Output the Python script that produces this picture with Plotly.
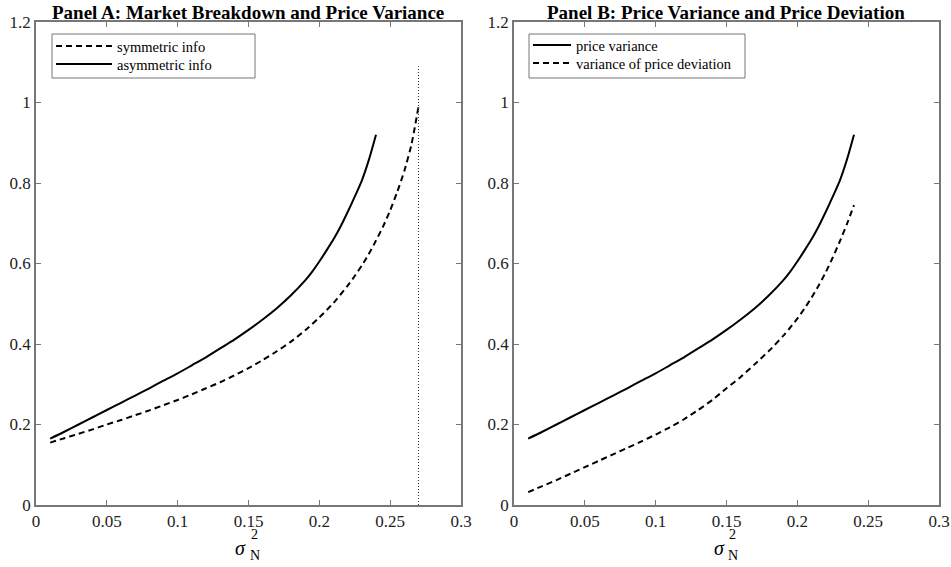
import plotly.graph_objects as go

# ---- data ----
x_asym = [0.01, 0.02, 0.03, 0.04, 0.05, 0.06, 0.07, 0.08, 0.09, 0.10, 0.11, 0.12, 0.13, 0.14,
          0.15, 0.16, 0.17, 0.18, 0.19, 0.195, 0.20, 0.205, 0.21, 0.215, 0.22, 0.225, 0.23, 0.235, 0.24]
y_asym = [0.165, 0.182, 0.200, 0.218, 0.236, 0.254, 0.272, 0.290, 0.309, 0.327, 0.347, 0.367, 0.389, 0.411,
          0.435, 0.461, 0.489, 0.521, 0.558, 0.580, 0.605, 0.632, 0.660, 0.692, 0.728, 0.766, 0.806, 0.858, 0.920]

x_sym = [0.01, 0.02, 0.03, 0.04, 0.05, 0.06, 0.07, 0.08, 0.09, 0.10, 0.11, 0.12, 0.13, 0.14, 0.15,
         0.16, 0.17, 0.18, 0.19, 0.20, 0.21, 0.22, 0.225, 0.23, 0.235, 0.24, 0.245, 0.25, 0.255, 0.26, 0.265, 0.27]
y_sym = [0.155, 0.166, 0.177, 0.188, 0.200, 0.211, 0.223, 0.235, 0.248, 0.261, 0.275, 0.290, 0.305, 0.322, 0.340,
         0.360, 0.382, 0.406, 0.434, 0.466, 0.502, 0.545, 0.569, 0.595, 0.624, 0.657, 0.692, 0.732, 0.778, 0.830, 0.895, 0.990]

x_dev = [0.01, 0.02, 0.03, 0.04, 0.05, 0.06, 0.07, 0.08, 0.09, 0.10, 0.11, 0.12, 0.13, 0.14, 0.15,
         0.16, 0.17, 0.18, 0.19, 0.195, 0.20, 0.205, 0.21, 0.215, 0.22, 0.225, 0.23, 0.235, 0.24]
y_dev = [0.032, 0.047, 0.062, 0.078, 0.094, 0.110, 0.126, 0.142, 0.158, 0.175, 0.193, 0.213, 0.236, 0.261, 0.290,
         0.318, 0.350, 0.383, 0.420, 0.441, 0.463, 0.488, 0.515, 0.545, 0.578, 0.615, 0.655, 0.698, 0.745]

breakdown_x = [0.27, 0.27]
breakdown_y = [0.0, 1.09]

x_tickvals = [0, 0.05, 0.1, 0.15, 0.2, 0.25, 0.3]
x_ticktext = ["0", "0.05", "0.1", "0.15", "0.2", "0.25", "0.3"]
y_tickvals = [0, 0.2, 0.4, 0.6, 0.8, 1.0, 1.2]
y_ticktext = ["0", "0.2", "0.4", "0.6", "0.8", "1", "1.2"]

titles = ["Panel A: Market Breakdown and Price Variance",
          "Panel B: Price Variance and Price Deviation"]

FONT = "Liberation Serif"
W, H = 951, 567
DASH = "6px,4px"

fig = go.Figure()

# Panel A
fig.add_trace(go.Scatter(x=x_sym, y=y_sym, mode="lines", name="symmetric info",
                         line=dict(color="black", width=2, dash=DASH, shape="spline", smoothing=0.6),
                         xaxis="x", yaxis="y", legend="legend"))
fig.add_trace(go.Scatter(x=x_asym, y=y_asym, mode="lines", name="asymmetric info",
                         line=dict(color="black", width=2, shape="spline", smoothing=0.6),
                         xaxis="x", yaxis="y", legend="legend2"))
fig.add_trace(go.Scatter(x=breakdown_x, y=breakdown_y, mode="lines", showlegend=False,
                         line=dict(color="#333", width=1, dash="1px,2px"),
                         xaxis="x", yaxis="y"))
# Panel B
fig.add_trace(go.Scatter(x=x_asym, y=y_asym, mode="lines", name="price variance",
                         line=dict(color="black", width=2, shape="spline", smoothing=0.6),
                         xaxis="x2", yaxis="y2", legend="legend3"))
fig.add_trace(go.Scatter(x=x_dev, y=y_dev, mode="lines", name="variance of price deviation",
                         line=dict(color="black", width=2, dash=DASH, shape="spline", smoothing=0.6),
                         xaxis="x2", yaxis="y2", legend="legend4"))

MT, MB = 22, 62
plot_h = H - MT - MB


def px_x(p):
    return p / W


def px_y(p):
    return 1 - (p - MT) / plot_h


axcommon = dict(showgrid=False, zeroline=False, showline=True, mirror="ticks",
                linecolor="#777", linewidth=1.5, ticks="inside", ticklen=5,
                tickcolor="#777", tickwidth=1, automargin=False,
                tickfont=dict(family=FONT, size=17, color="#222"))

dA = [px_x(36), px_x(461)]
dB = [px_x(514), px_x(939)]


def leg(xp, yp, iw):
    return dict(x=px_x(xp), y=px_y(yp), xref="paper", yref="paper",
                xanchor="left", yanchor="middle",
                bgcolor="rgba(0,0,0,0)", borderwidth=0,
                font=dict(family=FONT, size=14.5, color="black"),
                tracegroupgap=0, itemwidth=iw)


fig.update_layout(
    width=W, height=H,
    margin=dict(l=0, r=0, t=MT, b=MB),
    plot_bgcolor="white", paper_bgcolor="white",
    font=dict(family=FONT, color="black"),
    xaxis=dict(domain=dA, range=[0, 0.3], tickvals=x_tickvals, ticktext=x_ticktext,
               anchor="y", **axcommon),
    yaxis=dict(domain=[0, 1], range=[0, 1.2], tickvals=y_tickvals, ticktext=y_ticktext,
               anchor="x", **axcommon),
    xaxis2=dict(domain=dB, range=[0, 0.3], tickvals=x_tickvals, ticktext=x_ticktext,
                anchor="y2", **axcommon),
    yaxis2=dict(domain=[0, 1], range=[0, 1.2], tickvals=y_tickvals, ticktext=y_ticktext,
                anchor="x2", **axcommon),
    legend=leg(51, 46, 56),
    legend2=leg(51, 64, 56),
    legend3=leg(528, 45, 38),
    legend4=leg(528, 63, 38),
    showlegend=True,
)

# legend frames (MATLAB-style boxes)
shapes = []
for (x0, x1) in [(52, 255), (529, 745)]:
    shapes.append(dict(type="rect", xref="paper", yref="paper",
                       x0=px_x(x0), x1=px_x(x1), y0=px_y(78), y1=px_y(34),
                       line=dict(color="#777", width=1), fillcolor="rgba(0,0,0,0)",
                       layer="below"))
fig.update_layout(shapes=shapes)

annots = []
for cx, t in [(248, titles[0]), (726, titles[1])]:
    annots.append(dict(text="<b>" + t + "</b>", x=cx / W, y=px_y(0), xref="paper", yref="paper",
                       showarrow=False, xanchor="center", yanchor="top",
                       font=dict(family=FONT, size=19, color="black")))
    # x-axis label sigma^2_N
    annots.append(dict(text="<i>σ</i>", x=(cx - 7) / W, y=px_y(548),
                       xref="paper", yref="paper", showarrow=False,
                       xanchor="center", yanchor="middle",
                       font=dict(family=FONT, size=20, color="black")))
    annots.append(dict(text="2", x=(cx + 6) / W, y=px_y(534),
                       xref="paper", yref="paper", showarrow=False,
                       xanchor="center", yanchor="middle",
                       font=dict(family=FONT, size=14, color="black")))
    annots.append(dict(text="N", x=(cx + 7) / W, y=px_y(555),
                       xref="paper", yref="paper", showarrow=False,
                       xanchor="center", yanchor="middle",
                       font=dict(family=FONT, size=14, color="black")))
fig.update_layout(annotations=annots)

fig.write_html("out.html", config={"displayModeBar": False},
               post_script="document.body.style.margin='0';document.body.style.overflow='hidden';")
